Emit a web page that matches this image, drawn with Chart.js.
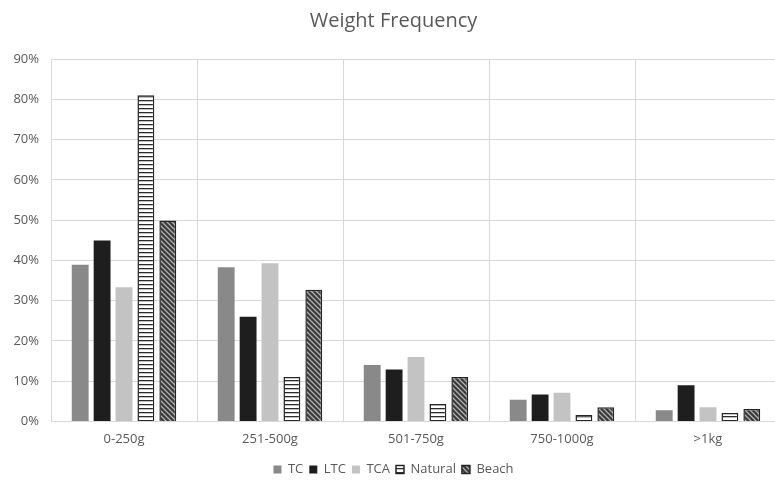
<!DOCTYPE html>
<html>
<head>
<meta charset="utf-8">
<script src="https://cdn.jsdelivr.net/npm/chart.js@4.4.1/dist/chart.umd.min.js"></script>
<style>
html,body{margin:0;padding:0;background:#fff;overflow:hidden;}
#wrap{position:absolute;left:0;top:0;width:795px;height:488px;}
</style>
</head>
<body>
<div id="wrap"><canvas id="c" width="795" height="488"></canvas></div>
<script>
const categories = ["0-250g", "251-500g", "501-750g", "750-1000g", ">1kg"];
const seriesNames = ["TC", "LTC", "TCA", "Natural", "Beach"];
const tcValues = [38.9, 38.3, 14.0, 5.4, 2.8];
const ltcValues = [44.9, 26.0, 12.9, 6.7, 9.0];
const tcaValues = [33.3, 39.3, 16.0, 7.1, 3.5];
const naturalValues = [81.0, 11.0, 4.3, 1.6, 2.1];
const beachValues = [49.9, 32.7, 11.0, 3.5, 3.1];
const yTicks = [0, 10, 20, 30, 40, 50, 60, 70, 80, 90];

function hPattern() {
  const c = document.createElement('canvas');
  c.width = 4; c.height = 4;
  const x = c.getContext('2d');
  x.fillStyle = '#ffffff'; x.fillRect(0, 0, 4, 4);
  x.fillStyle = '#2b2b2b'; x.fillRect(0, 0, 4, 1.3);
  return x.createPattern(c, 'repeat');
}
function dPattern() {
  const s = 5;
  const c = document.createElement('canvas');
  c.width = s; c.height = s;
  const x = c.getContext('2d');
  x.fillStyle = '#3a3a3a'; x.fillRect(0, 0, s, s);
  x.strokeStyle = '#b0b0b0'; x.lineWidth = 1.3;
  x.beginPath();
  x.moveTo(-1, -1); x.lineTo(s + 1, s + 1);
  x.moveTo(-1, s - 1); x.lineTo(1, s + 1);
  x.moveTo(s - 1, -1); x.lineTo(s + 1, 1);
  x.stroke();
  return x.createPattern(c, 'repeat');
}

const FONT = "'Open Sans', 'Liberation Sans', sans-serif";
const TXT = '#595959';

const data = {
  labels: categories,
  datasets: [
    { label: seriesNames[0], data: tcValues, backgroundColor: '#898989', borderColor: '#898989', borderWidth: 0 },
    { label: seriesNames[1], data: ltcValues, backgroundColor: '#1e1e1e', borderColor: '#1e1e1e', borderWidth: 0 },
    { label: seriesNames[2], data: tcaValues, backgroundColor: '#c3c3c3', borderColor: '#c3c3c3', borderWidth: 0 },
    { label: seriesNames[3], data: naturalValues, backgroundColor: hPattern(), borderColor: '#262626', borderWidth: 1.5 },
    { label: seriesNames[4], data: beachValues, backgroundColor: dPattern(), borderColor: '#262626', borderWidth: 1.5 }
  ]
};

new Chart(document.getElementById('c'), {
  type: 'bar',
  data: data,
  options: {
    responsive: false,
    animation: false,
    devicePixelRatio: 1,
    layout: { padding: { left: 6, right: 14, top: 4, bottom: 2 } },
    datasets: { bar: { categoryPercentage: 0.75, barPercentage: 0.77 } },
    plugins: {
      title: {
        display: true, text: 'Weight Frequency', color: TXT,
        font: { family: FONT, size: 20, weight: 'normal' },
        padding: { top: 5, bottom: 26 }
      },
      legend: {
        position: 'bottom',
        labels: {
          color: TXT, boxWidth: 8, boxHeight: 8, padding: 6,
          font: { family: FONT, size: 13 }
        }
      },
      tooltip: { enabled: false }
    },
    scales: {
      x: {
        grid: { color: '#d9d9d9', lineWidth: 1, drawTicks: false, offset: true },
        border: { color: '#d9d9d9' },
        ticks: { color: TXT, padding: 10, font: { family: FONT, size: 13 } }
      },
      y: {
        min: 0, max: 90,
        afterBuildTicks: (s) => { s.ticks = yTicks.map(v => ({ value: v })); },
        afterFit: (s) => { s.width = 45; },
        grid: { color: '#d9d9d9', lineWidth: 1, drawTicks: false },
        border: { color: '#d9d9d9' },
        ticks: { color: TXT, padding: 12, callback: (v) => v + '%', font: { family: FONT, size: 13 } }
      }
    }
  }
});
</script>
</body>
</html>
